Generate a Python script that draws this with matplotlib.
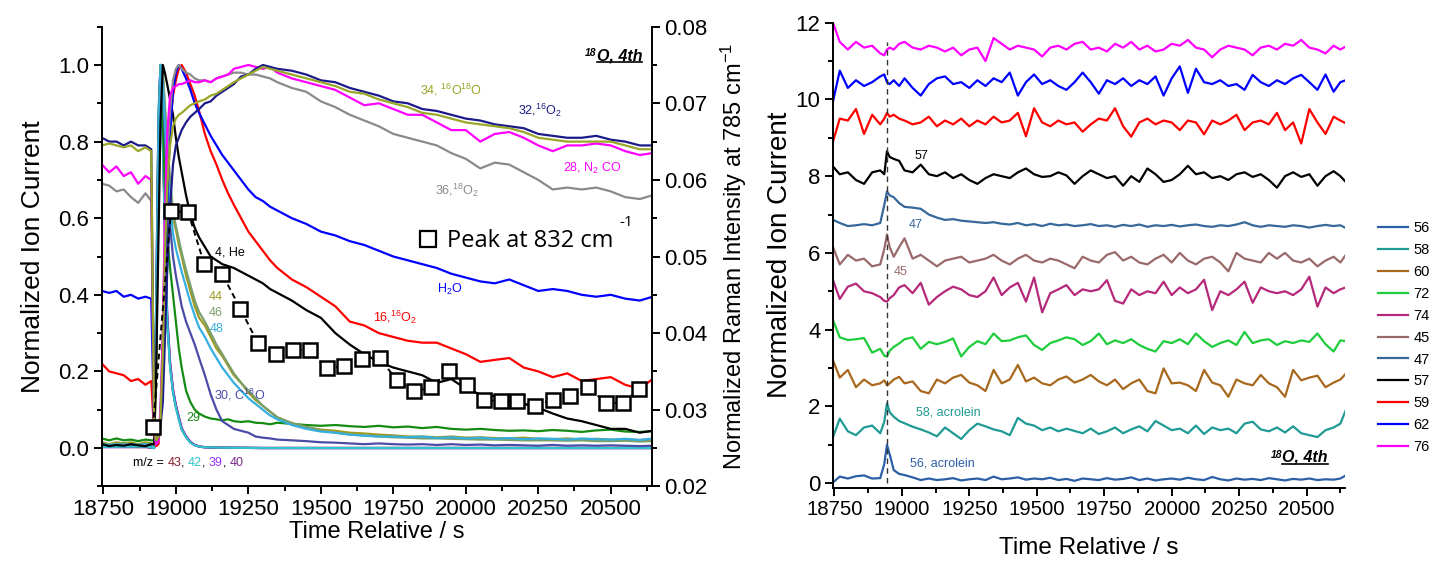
import matplotlib
matplotlib.use("Agg")
import matplotlib.pyplot as plt
import numpy as np
from matplotlib.lines import Line2D
from matplotlib.ticker import MultipleLocator, FormatStrFormatter
from matplotlib.font_manager import FontProperties

plt.rcParams['font.family'] = ['Liberation Sans', 'DejaVu Sans']
plt.rcParams['mathtext.default'] = 'regular'
plt.rcParams['axes.linewidth'] = 1.4

# ---------------- left panel: MS traces (normalized) ----------------
t_left = [18745, 18770, 18795, 18820, 18845, 18870, 18895, 18915,
          18925, 18932, 18940, 18947, 18955, 18962, 18970, 18980, 18990,
          19000, 19010, 19020, 19035, 19050, 19065, 19080,
          19100, 19120, 19140, 19160, 19180, 19200,
          19225, 19250, 19275, 19300, 19325, 19350,
          19400, 19450, 19500, 19550, 19600, 19650, 19700, 19750, 19800, 19850, 19900, 19950,
          20000, 20050, 20100, 20150, 20200, 20250, 20300, 20350, 20400, 20450, 20500, 20550, 20600, 20645]

mz32 = [0.81, 0.80, 0.80, 0.79, 0.80, 0.79, 0.79, 0.78,
        0.05, 0.02, 0.03, 0.06, 0.12, 0.28, 0.46, 0.63, 0.74,
        0.79, 0.81, 0.83, 0.85, 0.865, 0.875, 0.885,
        0.90, 0.905, 0.92, 0.93, 0.94, 0.95,
        0.97, 0.975, 0.99, 1.0, 0.995, 0.99,
        0.985, 0.975, 0.96, 0.955, 0.94, 0.93, 0.92, 0.905, 0.90, 0.885, 0.88, 0.87,
        0.86, 0.855, 0.845, 0.84, 0.835, 0.82, 0.815, 0.81, 0.81, 0.815, 0.805, 0.80, 0.79, 0.79]
mz34 = [0.79, 0.795, 0.79, 0.785, 0.79, 0.775, 0.785, 0.775,
        0.05, 0.02, 0.03, 0.08, 0.25, 0.50, 0.68, 0.79, 0.84,
        0.86, 0.87, 0.875, 0.885, 0.895, 0.90, 0.905,
        0.91, 0.92, 0.925, 0.935, 0.945, 0.955,
        0.965, 0.975, 0.985, 0.995, 0.99, 0.985,
        0.975, 0.965, 0.955, 0.945, 0.93, 0.925, 0.91, 0.90, 0.89, 0.875, 0.87, 0.86,
        0.85, 0.845, 0.84, 0.835, 0.825, 0.81, 0.805, 0.80, 0.80, 0.80, 0.80, 0.79, 0.78, 0.78]
mz28 = [0.74, 0.72, 0.735, 0.71, 0.72, 0.69, 0.71, 0.70,
        0.05, 0.01, 0.02, 0.10, 0.30, 0.60, 0.82, 0.92, 0.94,
        0.945, 0.95, 0.95, 0.955, 0.96, 0.955, 0.955,
        0.96, 0.955, 0.965, 0.97, 0.975, 0.99,
        0.995, 1.0, 0.995, 0.99, 0.995, 0.98,
        0.965, 0.955, 0.945, 0.935, 0.915, 0.895, 0.90, 0.885, 0.87, 0.87, 0.85, 0.83,
        0.83, 0.80, 0.82, 0.825, 0.81, 0.79, 0.775, 0.79, 0.79, 0.795, 0.79, 0.775, 0.765, 0.77]
mz36 = [0.69, 0.685, 0.67, 0.675, 0.655, 0.64, 0.665, 0.645,
        0.05, 0.01, 0.02, 0.10, 0.30, 0.55, 0.75, 0.88, 0.96,
        0.99, 1.0, 0.99, 0.98, 0.975, 0.965, 0.96,
        0.96, 0.955, 0.965, 0.97, 0.975, 0.98,
        0.98, 0.975, 0.975, 0.97, 0.965, 0.955,
        0.94, 0.93, 0.905, 0.89, 0.87, 0.855, 0.84, 0.82, 0.81, 0.80, 0.79, 0.77,
        0.755, 0.73, 0.745, 0.74, 0.72, 0.70, 0.675, 0.68, 0.675, 0.68, 0.67, 0.655, 0.65, 0.66]
h2o = [0.41, 0.405, 0.41, 0.395, 0.40, 0.39, 0.395, 0.39,
       0.05, 0.01, 0.02, 0.08, 0.25, 0.45, 0.65, 0.82, 0.93,
       0.98, 1.0, 0.99, 0.965, 0.935, 0.90, 0.875,
       0.845, 0.815, 0.79, 0.765, 0.745, 0.725,
       0.70, 0.675, 0.655, 0.645, 0.63, 0.62,
       0.60, 0.585, 0.565, 0.555, 0.54, 0.53, 0.515, 0.50, 0.49, 0.48, 0.47, 0.455,
       0.445, 0.435, 0.43, 0.44, 0.425, 0.41, 0.415, 0.41, 0.40, 0.395, 0.40, 0.39, 0.385, 0.395]
mz16 = [0.22, 0.20, 0.195, 0.19, 0.175, 0.18, 0.165, 0.175,
        0.04, 0.005, 0.01, 0.08, 0.22, 0.45, 0.68, 0.85, 0.92,
        0.96, 0.99, 1.0, 0.98, 0.95, 0.92, 0.88,
        0.82, 0.775, 0.74, 0.70, 0.665, 0.635,
        0.60, 0.565, 0.54, 0.515, 0.49, 0.47,
        0.44, 0.42, 0.395, 0.37, 0.33, 0.32, 0.30, 0.29, 0.28, 0.275, 0.275, 0.26,
        0.245, 0.225, 0.23, 0.235, 0.21, 0.20, 0.185, 0.195, 0.175, 0.18, 0.185, 0.165, 0.155, 0.18]
mz4 = [0.01, 0.005, 0.008, 0.006, 0.01, 0.007, 0.005, 0.01,
       0.01, 0.20, 0.55, 0.85, 1.0, 0.98, 0.95, 0.91, 0.87,
       0.81, 0.76, 0.72, 0.66, 0.61, 0.575, 0.55,
       0.525, 0.50, 0.49, 0.48, 0.475, 0.47,
       0.46, 0.45, 0.44, 0.43, 0.415, 0.405,
       0.385, 0.36, 0.34, 0.30, 0.27, 0.245, 0.225, 0.21, 0.20, 0.19, 0.17, 0.18,
       0.155, 0.14, 0.135, 0.125, 0.115, 0.105, 0.09, 0.077, 0.07, 0.06, 0.05, 0.05, 0.04, 0.045]
mz44 = [0.015, 0.01, 0.015, 0.012, 0.015, 0.01, 0.015, 0.012,
        0.01, 0.20, 0.70, 1.0, 0.97, 0.88, 0.78, 0.68, 0.60,
        0.57, 0.53, 0.50, 0.45, 0.41, 0.37, 0.34,
        0.32, 0.29, 0.26, 0.24, 0.215, 0.19,
        0.17, 0.145, 0.125, 0.11, 0.095, 0.08,
        0.065, 0.055, 0.048, 0.045, 0.04, 0.038, 0.035, 0.033, 0.03, 0.03, 0.028, 0.03,
        0.027, 0.028, 0.026, 0.025, 0.027, 0.024, 0.023, 0.025, 0.022, 0.024, 0.022, 0.023, 0.021, 0.022]
mz46 = [0.01, 0.008, 0.01, 0.012, 0.01, 0.008, 0.01, 0.01,
        0.01, 0.25, 0.75, 1.0, 0.98, 0.90, 0.80, 0.70, 0.62,
        0.58, 0.545, 0.51, 0.465, 0.425, 0.385, 0.355,
        0.33, 0.30, 0.27, 0.245, 0.22, 0.195,
        0.17, 0.15, 0.13, 0.11, 0.095, 0.08,
        0.065, 0.055, 0.045, 0.04, 0.035, 0.033, 0.03, 0.028, 0.027, 0.025, 0.025, 0.024,
        0.023, 0.022, 0.022, 0.021, 0.02, 0.02, 0.02, 0.019, 0.02, 0.018, 0.018, 0.019, 0.017, 0.018]
mz48 = [0.01, 0.008, 0.01, 0.008, 0.01, 0.008, 0.01, 0.008,
        0.01, 0.30, 0.80, 1.0, 0.95, 0.85, 0.74, 0.64, 0.56,
        0.52, 0.49, 0.46, 0.42, 0.38, 0.345, 0.315,
        0.29, 0.26, 0.235, 0.21, 0.19, 0.17,
        0.15, 0.13, 0.115, 0.10, 0.085, 0.075,
        0.06, 0.05, 0.043, 0.04, 0.035, 0.032, 0.03, 0.03, 0.028, 0.03, 0.026, 0.028,
        0.025, 0.027, 0.024, 0.026, 0.023, 0.025, 0.024, 0.022, 0.025, 0.023, 0.022, 0.024, 0.021, 0.025]
mz30 = [0.01, 0.008, 0.01, 0.012, 0.008, 0.01, 0.008, 0.01,
        0.01, 0.30, 0.80, 1.0, 0.93, 0.82, 0.70, 0.58, 0.50,
        0.45, 0.41, 0.37, 0.33, 0.30, 0.27, 0.235,
        0.19, 0.14, 0.10, 0.07, 0.06, 0.05,
        0.045, 0.04, 0.03, 0.027, 0.025, 0.022,
        0.02, 0.018, 0.015, 0.014, 0.012, 0.01, 0.012, 0.01, 0.009, 0.01, 0.008, 0.01,
        0.008, 0.009, 0.007, 0.008, 0.007, 0.006, 0.008, 0.006, 0.007, 0.006, 0.007, 0.006, 0.005, 0.006]
mz29 = [0.025, 0.02, 0.025, 0.02, 0.022, 0.018, 0.022, 0.02,
        0.02, 0.30, 0.80, 1.0, 0.85, 0.68, 0.55, 0.47, 0.40,
        0.33, 0.26, 0.21, 0.15, 0.12, 0.10, 0.09,
        0.082, 0.077, 0.075, 0.072, 0.075, 0.07,
        0.068, 0.07, 0.066, 0.065, 0.062, 0.066,
        0.063, 0.06, 0.058, 0.06, 0.057, 0.055, 0.058, 0.054, 0.056, 0.052, 0.055, 0.05,
        0.048, 0.05, 0.047, 0.045, 0.046, 0.044, 0.047, 0.045, 0.042, 0.046, 0.048, 0.043, 0.042, 0.044]

# fast-decaying fragments, own (coarser) time base
t_fast = [18745, 18900, 18925, 18932, 18940, 18947, 18955, 18962, 18970, 18980, 18990,
          19000, 19010, 19020, 19035, 19050, 19065, 19080, 19100, 19150, 19300, 20645]
mz43 = [0.004, 0.003, 0.0, 0.35, 0.85, 1.0, 0.82, 0.58, 0.34, 0.22, 0.15,
        0.11, 0.08, 0.05, 0.03, 0.015, 0.008, 0.004, 0.002, 0.001, 0.0, 0.0]
mz42 = [0.003, 0.004, 0.0, 0.38, 0.88, 1.0, 0.80, 0.56, 0.33, 0.21, 0.145,
        0.105, 0.075, 0.048, 0.028, 0.014, 0.007, 0.004, 0.002, 0.001, 0.0, 0.0]
mz39 = [0.002, 0.003, 0.0, 0.33, 0.83, 1.0, 0.83, 0.59, 0.35, 0.225, 0.155,
        0.112, 0.082, 0.052, 0.031, 0.016, 0.008, 0.004, 0.002, 0.001, 0.0, 0.0]
mz40 = [0.003, 0.002, 0.0, 0.36, 0.86, 1.0, 0.81, 0.57, 0.335, 0.215, 0.148,
        0.108, 0.078, 0.05, 0.029, 0.015, 0.0075, 0.004, 0.002, 0.001, 0.0, 0.0]

# Raman band at 832 cm-1 (right axis)
raman_t = [18921, 18983, 19042, 19098, 19160, 19222, 19283, 19344, 19403, 19461,
           19520, 19580, 19641, 19703, 19762, 19820, 19881, 19942, 20004, 20063,
           20121, 20178, 20239, 20300, 20359, 20423, 20483, 20541, 20598]
raman_832 = [0.0277, 0.0559, 0.0558, 0.0490, 0.0477, 0.0432, 0.0387, 0.0373, 0.0378, 0.0378,
             0.0354, 0.0357, 0.0366, 0.0367, 0.0339, 0.0324, 0.0329, 0.0351, 0.0332, 0.0313,
             0.0311, 0.0311, 0.0305, 0.0313, 0.0318, 0.0329, 0.0309, 0.0309, 0.0327]

# ---------------- right panel: offset MS traces ----------------
t_right = [18745, 18770, 18800, 18830, 18860, 18890, 18920, 18935, 18945, 18955, 18970, 18990,
           19010, 19040, 19070, 19100, 19130, 19160, 19190, 19220, 19250, 19280, 19310, 19340,
           19370, 19400, 19430, 19460, 19490, 19520, 19550, 19580, 19610, 19640, 19670, 19700,
           19730, 19760, 19790, 19820, 19850, 19880, 19910, 19940, 19970, 20000, 20030, 20060,
           20090, 20120, 20150, 20180, 20210, 20240, 20270, 20300, 20330, 20360, 20390, 20420,
           20450, 20480, 20510, 20540, 20570, 20600, 20625, 20645]

ms56 = [0.02, 0.17, 0.12, 0.18, 0.20, 0.12, 0.13, 0.50, 1.00, 0.75, 0.34, 0.24, 0.21, 0.15, 0.08, 0.12,
        0.08, 0.10, 0.13, 0.07, 0.10, 0.12, 0.08, 0.17, 0.10, 0.12, 0.15, 0.09, 0.12, 0.10, 0.14, 0.08,
        0.11, 0.06, 0.12, 0.10, 0.08, 0.13, 0.09, 0.11, 0.15, 0.08, 0.12, 0.07, 0.10, 0.12, 0.09, 0.14,
        0.10, 0.08, 0.16, 0.10, 0.07, 0.12, 0.09, 0.11, 0.08, 0.13, 0.10, 0.07, 0.11, 0.09, 0.12, 0.08,
        0.10, 0.09, 0.12, 0.20]
ms58 = [1.20, 1.68, 1.35, 1.25, 1.45, 1.50, 1.30, 1.60, 2.08, 1.85, 1.73, 1.62, 1.56, 1.47, 1.40, 1.32,
        1.22, 1.45, 1.30, 1.15, 1.38, 1.55, 1.48, 1.40, 1.35, 1.25, 1.70, 1.55, 1.50, 1.38, 1.45, 1.35,
        1.42, 1.36, 1.30, 1.42, 1.28, 1.35, 1.45, 1.30, 1.40, 1.48, 1.35, 1.62, 1.50, 1.38, 1.42, 1.30,
        1.50, 1.28, 1.45, 1.38, 1.42, 1.30, 1.55, 1.60, 1.40, 1.35, 1.45, 1.32, 1.48, 1.30, 1.25, 1.20,
        1.38, 1.45, 1.55, 1.90]
ms60 = [3.20, 2.75, 2.95, 2.50, 2.70, 2.55, 2.60, 2.68, 2.55, 2.60, 2.70, 2.77, 2.60, 2.65, 2.40, 2.34,
        2.70, 2.60, 2.75, 2.82, 2.62, 2.55, 2.40, 2.95, 2.60, 2.70, 3.08, 2.65, 2.75, 2.60, 2.55, 2.70,
        2.78, 2.62, 2.70, 2.82, 2.65, 2.55, 2.70, 2.45, 2.60, 2.70, 2.40, 2.34, 2.99, 2.60, 2.62, 2.55,
        2.40, 2.95, 2.62, 2.55, 2.25, 2.70, 2.60, 2.55, 2.82, 2.60, 2.50, 2.25, 2.95, 2.68, 2.75, 2.80,
        2.50, 2.62, 2.70, 2.85]
ms72 = [4.25, 3.80, 3.73, 3.75, 3.78, 3.40, 3.50, 3.32, 3.30, 3.45, 3.55, 3.64, 3.75, 3.80, 3.50, 3.68,
        3.62, 3.68, 3.77, 3.30, 3.55, 3.70, 3.62, 3.90, 3.70, 3.72, 3.80, 3.85, 3.60, 3.47, 3.65, 3.72,
        3.80, 3.75, 3.60, 3.70, 3.90, 3.62, 3.72, 3.65, 3.75, 3.60, 3.50, 3.43, 3.70, 3.65, 3.75, 3.62,
        3.90, 3.70, 3.55, 3.65, 3.72, 3.60, 3.94, 3.65, 3.72, 3.75, 3.60, 3.70, 3.65, 3.72, 3.68, 3.90,
        3.62, 3.43, 3.72, 3.70]
ms74 = [5.29, 4.80, 5.12, 5.20, 5.00, 4.95, 4.85, 4.75, 4.73, 4.82, 4.90, 5.10, 5.16, 4.95, 5.22, 4.65,
        4.85, 5.00, 5.12, 5.05, 4.90, 4.85, 5.00, 5.36, 4.90, 5.10, 5.22, 4.73, 5.36, 4.45, 4.95, 5.05,
        5.16, 4.90, 5.05, 5.00, 5.05, 5.29, 4.75, 4.68, 5.05, 4.90, 5.00, 4.95, 5.25, 4.90, 5.10, 4.95,
        5.05, 5.30, 4.51, 5.00, 4.90, 5.05, 5.25, 4.70, 5.10, 5.00, 4.95, 5.00, 4.90, 5.05, 5.38, 4.60,
        5.10, 4.95, 5.05, 5.10]
ms45 = [6.15, 5.70, 5.95, 5.80, 5.85, 5.65, 5.70, 6.10, 6.48, 6.15, 5.90, 6.15, 6.38, 5.85, 5.95, 5.80,
        5.65, 5.80, 5.85, 5.90, 5.75, 5.80, 5.85, 5.95, 5.80, 5.70, 5.85, 5.95, 5.80, 5.75, 5.85, 5.80,
        5.70, 5.60, 5.90, 5.80, 5.75, 5.95, 6.02, 5.80, 5.90, 5.75, 5.70, 5.85, 5.95, 5.75, 6.00, 5.80,
        5.70, 5.85, 5.90, 5.75, 5.52, 6.00, 5.85, 5.80, 5.75, 6.00, 5.85, 6.00, 5.80, 5.75, 5.85, 5.65,
        5.80, 5.90, 5.75, 5.95]
ms47 = [6.86, 6.78, 6.70, 6.72, 6.75, 6.72, 6.78, 7.25, 7.60, 7.50, 7.45, 7.30, 7.20, 7.18, 7.15, 7.00,
        6.92, 6.86, 6.88, 6.84, 6.82, 6.80, 6.78, 6.80, 6.76, 6.74, 6.78, 6.72, 6.75, 6.70, 6.76, 6.72,
        6.74, 6.70, 6.72, 6.75, 6.70, 6.72, 6.68, 6.73, 6.70, 6.74, 6.68, 6.72, 6.70, 6.73, 6.69, 6.72,
        6.74, 6.70, 6.68, 6.72, 6.70, 6.74, 6.80, 6.72, 6.68, 6.72, 6.70, 6.68, 6.72, 6.70, 6.66, 6.70,
        6.73, 6.70, 6.72, 6.65]
ms57 = [8.25, 8.05, 8.10, 7.90, 7.80, 8.10, 8.15, 8.05, 8.65, 8.50, 8.45, 8.40, 8.15, 8.10, 8.30, 8.05,
        8.00, 8.10, 7.95, 8.05, 7.90, 7.80, 7.95, 8.05, 8.00, 7.95, 8.10, 8.20, 8.05, 7.98, 8.00, 8.10,
        8.02, 7.80, 8.00, 8.15, 8.05, 7.95, 8.00, 7.75, 8.00, 7.85, 8.20, 8.05, 7.85, 7.90, 8.05, 8.27,
        8.05, 8.10, 7.95, 8.00, 7.90, 8.05, 8.10, 7.98, 8.05, 7.90, 7.70, 8.00, 8.10, 7.98, 8.05, 7.75,
        8.00, 8.13, 8.00, 7.85]
ms59 = [8.90, 9.50, 9.45, 9.75, 9.10, 9.60, 9.35, 9.50, 9.65, 9.55, 9.60, 9.50, 9.45, 9.35, 9.40, 9.55,
        9.30, 9.45, 9.35, 9.50, 9.30, 9.45, 9.35, 9.55, 9.40, 9.45, 9.65, 9.04, 9.77, 9.40, 9.30, 9.45,
        9.35, 9.40, 9.16, 9.35, 9.50, 9.45, 9.77, 9.30, 9.03, 9.40, 9.50, 9.35, 9.45, 9.40, 9.20, 9.45,
        9.40, 9.09, 9.45, 9.35, 9.45, 9.60, 9.20, 9.40, 9.45, 9.35, 9.65, 9.20, 9.40, 8.85, 9.75, 9.40,
        9.10, 9.55, 9.45, 9.38]
ms62 = [9.95, 10.75, 10.30, 10.50, 10.35, 10.45, 10.60, 10.65, 10.45, 10.40, 10.50, 10.35, 10.55, 10.30, 10.10, 10.40,
        10.55, 10.60, 10.40, 10.45, 10.30, 10.50, 10.35, 10.55, 10.45, 10.70, 10.10, 10.45, 10.65, 10.40, 10.50, 10.35,
        10.25, 10.45, 10.70, 10.45, 10.15, 10.50, 10.40, 10.55, 10.35, 10.50, 10.40, 10.60, 10.10, 10.55, 10.86, 10.17,
        10.80, 10.45, 10.40, 10.50, 10.35, 10.40, 10.25, 10.64, 10.45, 10.35, 10.50, 10.40, 10.55, 10.64, 10.45, 10.25,
        10.65, 10.20, 10.45, 10.50]
ms76 = [12.00, 11.50, 11.30, 11.50, 11.35, 11.40, 11.20, 11.15, 11.30, 11.35, 11.30, 11.45, 11.50, 11.35, 11.30, 11.40,
        11.35, 11.25, 11.35, 11.15, 11.30, 11.35, 11.00, 11.60, 11.45, 11.30, 11.40, 11.35, 11.30, 11.12, 11.35, 11.40,
        11.30, 11.45, 11.50, 11.30, 11.35, 11.25, 11.45, 11.35, 11.50, 11.30, 11.40, 11.25, 11.30, 11.45, 11.40, 11.55,
        11.35, 11.30, 11.10, 11.30, 11.40, 11.35, 11.30, 11.15, 11.35, 11.40, 11.30, 11.45, 11.40, 11.55, 11.35, 11.30,
        11.20, 11.40, 11.30, 11.38]

right_masses = ['56', '58', '60', '72', '74', '45', '47', '57', '59', '62', '76']
right_series = [ms56, ms58, ms60, ms72, ms74, ms45, ms47, ms57, ms59, ms62, ms76]
right_colors = ['#2d5fa6', '#1f9a94', '#a8691e', '#1fcc3c', '#b5287a', '#9a6a6a',
                '#36689a', '#000000', '#ff0000', '#0000ff', '#ff00ff']

switch_time = 18945   # gas switch, dashed marker in the right panel

fig = plt.figure(figsize=(14.34, 5.63), dpi=100)
ax = fig.add_axes([0.0711, 0.1362, 0.3835, 0.8164])
axr = ax.twinx()
ax2 = fig.add_axes([0.5809, 0.1337, 0.357, 0.826])

lw = 1.6
for ys, c in [(mz43, '#8b1c2c'), (mz39, '#9b30ff'), (mz40, '#7d2a8c'), (mz42, '#2ec4cc')]:
    ax.plot(t_fast, ys, color=c, lw=lw)
for ys, c in [(mz29, '#148c14'), (mz30, '#4b4ba8'), (mz44, '#a09a20'), (mz46, '#7b9f6b'),
              (mz48, '#35aee0'), (mz4, '#000000'), (mz16, '#ff0000'), (h2o, '#0000ff'),
              (mz36, '#8a8a8a'), (mz28, '#ff00ff'), (mz32, '#1a1a8a'), (mz34, '#9aa628')]:
    ax.plot(t_left, ys, color=c, lw=lw)

axr.plot(raman_t, raman_832, color='black', lw=1.4, ls=(0, (3, 2)),
         marker='s', ms=10, mfc='white', mec='black', mew=1.8, zorder=5)

# axis formatting, left panel
ax.set_xlim(18745, 20642)
ax.set_ylim(-0.1, 1.1)
axr.set_ylim(0.02, 0.08)
ax.set_xticks(np.arange(18750, 20501, 250))
ax.xaxis.set_minor_locator(MultipleLocator(125))
ax.set_yticks(np.arange(0, 1.01, 0.2))
ax.yaxis.set_minor_locator(MultipleLocator(0.1))
ax.yaxis.set_major_formatter(FormatStrFormatter('%.1f'))
axr.set_yticks(np.arange(0.02, 0.0801, 0.01))
axr.yaxis.set_minor_locator(MultipleLocator(0.005))
axr.yaxis.set_major_formatter(FormatStrFormatter('%.2f'))
for a in (ax, axr):
    a.spines['top'].set_visible(False)
    a.tick_params(which='major', direction='out', length=6, width=1.4, labelsize=16, pad=3)
    a.tick_params(which='minor', direction='out', length=3.5, width=1.4)
ax.spines['right'].set_visible(False)
axr.spines['left'].set_visible(False)

ax.set_xlabel("Time Relative / s", fontsize=17, labelpad=1)
ax.set_ylabel("Normalized Ion Current", fontsize=19, labelpad=10)
axr.set_ylabel("Normalized Raman Intensity at 785 cm$^{-1}$", fontsize=17, labelpad=8)

# trace labels, left panel
lab = dict(fontsize=9, ha='left', va='center')
ax.text(19842, 0.935, "34, ${}^{16}$O${}^{18}$O", color='#9aa628', **lab)
ax.text(20180, 0.882, "32,${}^{16}$O$_2$", color='#1a1a8a', **lab)
ax.text(20335, 0.73, "28, N$_2$ CO", color='#ff00ff', **lab)
ax.text(19893, 0.674, "36,${}^{18}$O$_2$", color='#8a8a8a', **lab)
ax.text(19900, 0.413, "H$_2$O", color='#0000ff', **lab)
ax.text(19680, 0.342, "16,${}^{16}$O$_2$", color='#ff0000', **lab)
ax.text(19135, 0.51, "4, He", color='black', **lab)
ax.text(19112, 0.395, "44", color='#a09a20', **lab)
ax.text(19112, 0.353, "46", color='#7b9f6b', **lab)
ax.text(19115, 0.31, "48", color='#35aee0', **lab)
ax.text(19132, 0.138, "30, C${}^{18}$O", color='#4b4ba8', **lab)
ax.text(19035, 0.078, "29", color='#148c14', **lab)

# multi-coloured m/z annotation
prev = ax.text(18852, -0.04, "m/z = ", color='black', **lab)
for s, c in [("43", '#8b1c2c'), (", ", 'black'), ("42", '#2ec4cc'), (", ", 'black'),
             ("39", '#9b30ff'), (", ", 'black'), ("40", '#7d2a8c')]:
    prev = ax.annotate(s, xy=(1, 0), xycoords=prev, va='bottom', ha='left',
                       fontsize=9, color=c)

# Raman legend
sq = Line2D([], [], ls='none', marker='s', ms=11, mfc='white', mec='black', mew=1.6)
axr.legend([sq], ["Peak at 832 cm"], loc='center left', bbox_to_anchor=(0.571, 0.533),
           frameon=False, prop=FontProperties(family='Open Sans', size=17),
           handlelength=1.0, handletextpad=0.3, borderpad=0, borderaxespad=0)
axr.text(0.953, 0.575, "-1", transform=axr.transAxes, fontsize=11,
         family='Open Sans', ha='center', va='center')

# right panel
for ys, c, m in zip(right_series, right_colors, right_masses):
    ax2.plot(t_right, ys, color=c, lw=lw, label=m)
ax2.plot([switch_time, switch_time], [0, 11.5], color='#333333', lw=1.0, ls=(0, (4, 3)))

ax2.set_xlim(18745, 20642)
ax2.set_ylim(-0.12, 12.0)
ax2.set_xticks(np.arange(18750, 20501, 250))
ax2.xaxis.set_minor_locator(MultipleLocator(125))
ax2.set_yticks(np.arange(0, 13, 2))
ax2.yaxis.set_minor_locator(MultipleLocator(1))
ax2.spines['top'].set_visible(False)
ax2.spines['right'].set_visible(False)
ax2.tick_params(which='major', direction='out', length=6, width=1.4, pad=3)
ax2.tick_params(which='minor', direction='out', length=3.5, width=1.4)
ax2.tick_params(axis='x', labelsize=14.7)
ax2.tick_params(axis='y', labelsize=16)
ax2.set_xlabel("Time Relative / s", fontsize=17.5, labelpad=13)
ax2.set_ylabel("Normalized Ion Current", fontsize=20, labelpad=2)

ax2.text(19048, 8.53, "57", color='black', **lab)
ax2.text(19026, 6.73, "47", color='#36689a', **lab)
ax2.text(18970, 5.49, "45", color='#9a6a6a', **lab)
ax2.text(19052, 1.85, "58, acrolein", color='#1f9a94', **lab)
ax2.text(19030, 0.52, "56, acrolein", color='#2d5fa6', **lab)

ax2.legend(loc='upper left', bbox_to_anchor=(1.064, 0.573), frameon=False, fontsize=10.5,
           handlelength=2.1, handletextpad=0.35, labelspacing=0.54,
           borderaxespad=0, borderpad=0)


def run_tag(axis, x, y):
    main = axis.text(x, y, "O, 4th", ha='right', va='baseline', fontsize=11.5,
                     fontweight='bold', style='italic')
    axis.annotate("18", xy=(0, 1), xycoords=main, ha='right', va='top',
                  fontsize=7.5, fontweight='bold', style='italic')
    return main


tags = [run_tag(ax, 20608, 1.013), run_tag(ax2, 20579, 0.555)]

fig.canvas.draw()
inv = fig.transFigure.inverted()
for t in tags:
    bb = t.get_window_extent()
    base = t.get_transform().transform(t.get_position())[1] - 2.0
    (fx0, fy), (fx1, _) = inv.transform([(bb.x0, base), (bb.x1, base)])
    fig.add_artist(Line2D([fx0, fx1], [fy, fy], color='black', lw=1.2))

fig.savefig("out.png", dpi=100)
